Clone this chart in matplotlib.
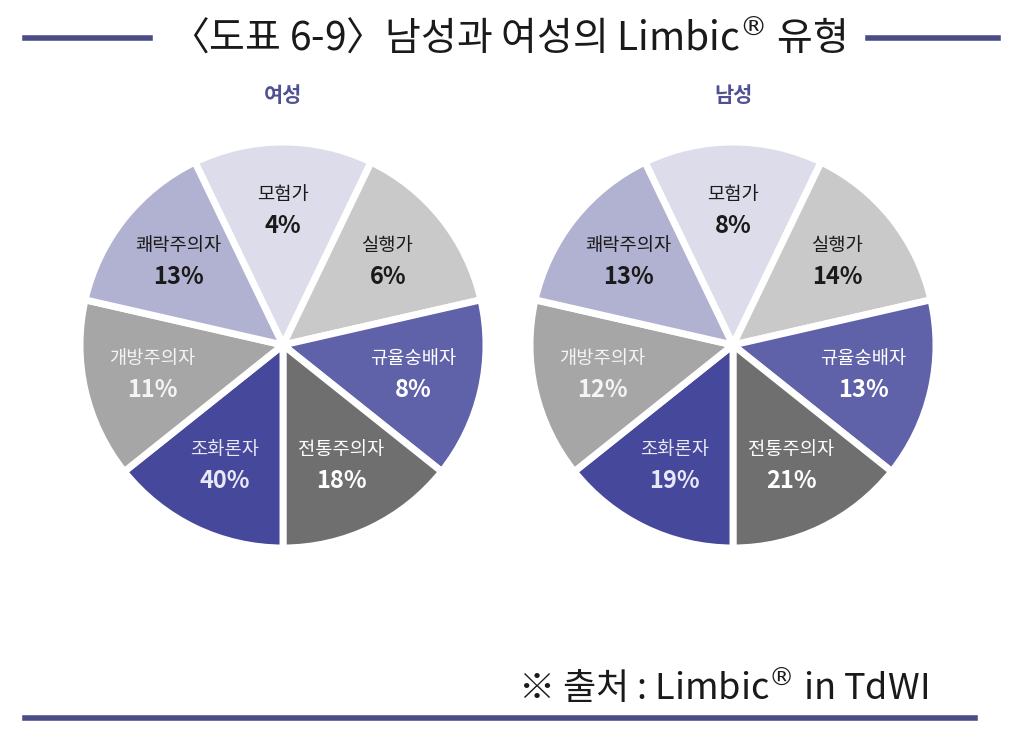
import numpy as np
import matplotlib
matplotlib.use("Agg")
import matplotlib.pyplot as plt
from matplotlib.lines import Line2D

plt.rcParams['font.family'] = ['Noto Sans CJK KR', 'DejaVu Sans']

categories = ['모험가', '실행가', '규율숭배자', '전통주의자', '조화론자', '개방주의자', '쾌락주의자']
female_pct = [4, 6, 8, 18, 40, 11, 13]
male_pct = [8, 14, 13, 21, 19, 12, 13]
# the original draws every type as an equal slice
slice_sizes = [1, 1, 1, 1, 1, 1, 1]

colors = ['#dcdcea', '#c9c9c9', '#5f61a9', '#6f6f6f', '#46489b', '#a6a6a6', '#b1b1d1']
text_colors = ['#1a1a1a', '#1a1a1a', '#ffffff', '#ffffff', '#e8e8f6', '#f4f4f4', '#1a1a1a']

title = '〈도표 6-9〉남성과 여성의 Limbic$^{®}$ 유형'
navy = '#4b4c85'

fig = plt.figure(figsize=(10.24, 7.43), dpi=100)
W, H = 1024, 743

def draw_pie(left_px, top_px, size_px, pct, subtitle):
    ax = fig.add_axes([left_px / W, 1 - (top_px + size_px) / H, size_px / W, size_px / H])
    wedges, _ = ax.pie(slice_sizes, colors=colors, startangle=90 + 360 / 14,
                       counterclock=False,
                       wedgeprops=dict(edgecolor='white', linewidth=5))
    for w, cat, p, tc in zip(wedges, categories, pct, text_colors):
        ang = np.deg2rad((w.theta1 + w.theta2) / 2)
        r = 0.66
        x, y = r * np.cos(ang), r * np.sin(ang)
        ax.text(x, y + 0.08, cat, ha='center', va='center', fontsize=13.5,
                color=tc, fontweight='regular')
        ax.text(x, y - 0.075, f'{p}%', ha='center', va='center', fontsize=17,
                color=tc, fontweight='bold')
    ax.set_xlim(-1.0, 1.0)
    ax.set_ylim(-1.0, 1.0)
    ax.set_aspect('equal')
    ax.axis('off')
    fig.text((left_px + size_px / 2) / W, 1 - 95 / H, subtitle, ha='center', va='center',
             fontsize=15, fontweight='bold', color='#4f5192')

draw_pie(80, 142, 406, female_pct, '여성')
draw_pie(530, 142, 406, male_pct, '남성')

# title with side rules
fig.text(508 / W, 1 - 38 / H, title, ha='center', va='center', fontsize=28, color='#1a1a1a')
fig.add_artist(Line2D([25 / W, 150 / W], [1 - 38 / H, 1 - 38 / H], color=navy, lw=4))
fig.add_artist(Line2D([868 / W, 998 / W], [1 - 38 / H, 1 - 38 / H], color=navy, lw=4))

# source
fig.text(518 / W, 1 - 688 / H, '※ 출처 : Limbic$^{®}$ in TdWI', ha='left', va='center',
         fontsize=26, color='#1a1a1a')
fig.add_artist(Line2D([25 / W, 975 / W], [1 - 718 / H, 1 - 718 / H], color=navy, lw=4))

fig.savefig('out.png', dpi=100, facecolor='white')
